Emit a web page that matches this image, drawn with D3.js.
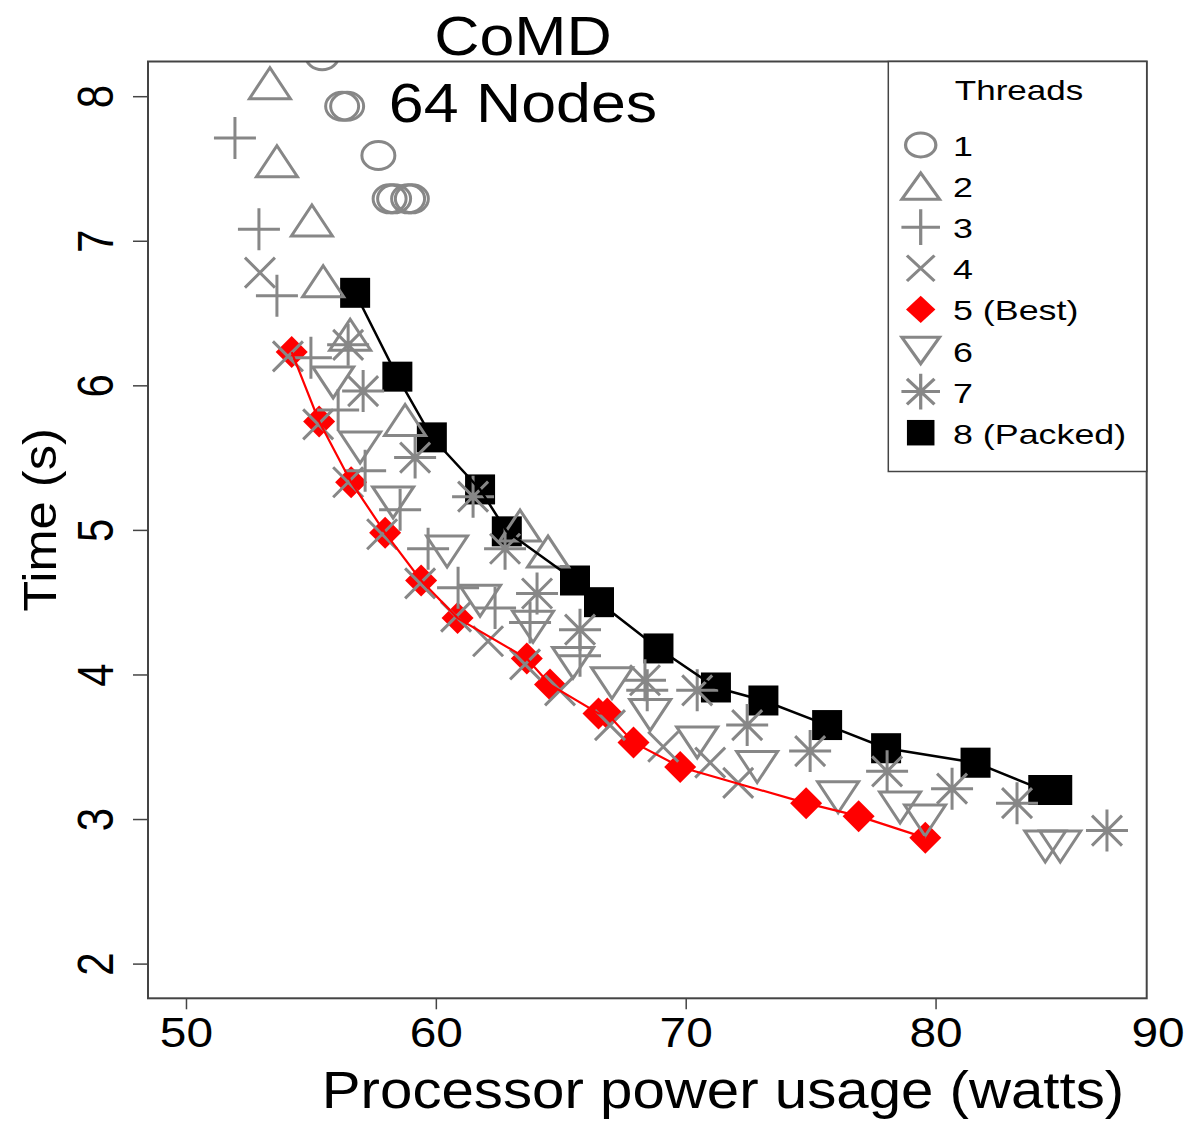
<!DOCTYPE html>
<html>
<head>
<meta charset="utf-8">
<script src="https://cdn.jsdelivr.net/npm/d3@7"></script>
<style>
body { margin: 0; background: #fff; }
svg { display: block; font-family: "Liberation Sans", Arial, Helvetica, sans-serif; }
</style>
</head>
<body>
<div id="chart"></div>
<script>
// values, power in watts and time in seconds
var t1Power = [55.45, 56.25, 56.45, 57.70, 58.15, 58.33, 58.89, 59.04];
var t1Time  = [8.28, 7.93, 7.93, 7.59, 7.29, 7.29, 7.29, 7.29];

var t2Power = [53.36, 53.64, 55.04, 55.49, 56.57, 58.77, 63.37, 64.49];
var t2Time  = [8.09, 7.55, 7.14, 6.72, 6.35, 5.76, 5.03, 4.85];

var t3Power = [51.96, 52.92, 53.64, 55.00, 56.09, 57.17, 58.57, 59.69, 60.89, 62.37, 63.77, 65.77, 68.46];
var t3Time  = [7.71, 7.08, 6.62, 6.19, 5.83, 5.41, 5.14, 4.87, 4.60, 4.46, 4.36, 4.13, 3.89];

var t4Power = [52.96, 54.08, 55.29, 56.49, 57.85, 59.37, 60.81, 62.09, 63.57, 64.97, 66.97, 69.10, 70.98, 72.10];
var t4Time  = [6.78, 6.20, 5.73, 5.33, 4.97, 4.63, 4.40, 4.23, 4.07, 3.89, 3.65, 3.50, 3.39, 3.25];

var t5Power = [54.23, 55.33, 56.61, 57.97, 59.41, 60.87, 63.64, 64.57, 66.51, 66.86, 67.91, 69.78, 74.82, 76.92, 79.59];
var t5Time  = [6.23, 5.75, 5.33, 4.98, 4.65, 4.39, 4.11, 3.93, 3.73, 3.73, 3.53, 3.36, 3.11, 3.02, 2.87];

var t6Power = [55.89, 56.97, 58.29, 60.45, 61.77, 63.89, 65.49, 67.05, 68.58, 70.46, 72.86, 76.10, 78.58, 79.58, 84.39, 84.99];
var t6Time  = [6.02, 5.57, 5.19, 4.85, 4.51, 4.33, 4.08, 3.94, 3.72, 3.53, 3.36, 3.15, 3.08, 2.99, 2.81, 2.81];

var t7Power = [56.49, 57.09, 59.17, 61.49, 62.77, 64.05, 65.77, 68.37, 70.46, 72.46, 74.98, 78.06, 80.66, 83.26, 86.86];
var t7Time  = [6.28, 5.96, 5.50, 5.23, 4.87, 4.56, 4.31, 3.96, 3.89, 3.65, 3.47, 3.33, 3.21, 3.11, 2.92];

var t8Power = [56.77, 58.46, 59.84, 61.77, 62.84, 65.57, 66.53, 68.91, 71.21, 73.11, 75.66, 78.02, 81.60, 84.31, 84.87];
var t8Time  = [6.64, 6.06, 5.64, 5.28, 4.99, 4.65, 4.50, 4.18, 3.91, 3.82, 3.65, 3.49, 3.39, 3.20, 3.20];

var legendLabels = ["1", "2", "3", "4", "5 (Best)", "6", "7", "8 (Packed)"];
var xTicks = [50, 60, 70, 80];
var yTicks = [2, 3, 4, 5, 6, 7, 8];

var width = 1191, height = 1121;
var margin = {top: 61.5, right: 44.3, bottom: 122.7, left: 148};
var gray = "#878787";

var series = [
  {type: "circle", power: t1Power, time: t1Time},
  {type: "triUp", power: t2Power, time: t2Time},
  {type: "plus", power: t3Power, time: t3Time},
  {type: "cross", power: t4Power, time: t4Time},
  {type: "diamond", power: t5Power, time: t5Time},
  {type: "triDown", power: t6Power, time: t6Time},
  {type: "star", power: t7Power, time: t7Time},
  {type: "square", power: t8Power, time: t8Time}
];

var shapePath = function(type, k) {
  var p = d3.path(), rx, ry, hw, h, r, c;
  if (type === "circle") {
    rx = 16.5 * k; ry = 14 * k;
    return "M" + (-rx) + ",0A" + rx + "," + ry + " 0 1,0 " + rx + ",0A" + rx + "," + ry + " 0 1,0 " + (-rx) + ",0Z";
  }
  if (type === "triUp" || type === "triDown") {
    hw = 20.5 * k; h = 31 * k;
    var s = type === "triUp" ? 1 : -1;
    p.moveTo(-hw, s * h / 2); p.lineTo(hw, s * h / 2); p.lineTo(0, -s * h / 2); p.closePath();
    return p.toString();
  }
  if (type === "plus" || type === "star") {
    r = 21 * k;
    p.moveTo(-r, 0); p.lineTo(r, 0); p.moveTo(0, -r); p.lineTo(0, r);
  }
  if (type === "cross" || type === "star") {
    c = 15 * k;
    p.moveTo(-c, -c); p.lineTo(c, c); p.moveTo(-c, c); p.lineTo(c, -c);
  }
  if (type === "plus" || type === "cross" || type === "star") return p.toString();
  if (type === "square") {
    r = 15 * k;
    p.rect(-r, -r, 2 * r, 2 * r);
    return p.toString();
  }
  if (type === "diamond") {
    r = 16 * k;
    p.moveTo(0, -r); p.lineTo(r, 0); p.lineTo(0, r); p.lineTo(-r, 0); p.closePath();
    return p.toString();
  }
};

var styleMark = function(sel, type) {
  if (type === "square") return sel.attr("fill", "#000").attr("stroke", "none");
  if (type === "diamond") return sel.attr("fill", "#ff0000").attr("stroke", "none");
  return sel.attr("fill", "none").attr("stroke", gray).attr("stroke-width", 3);
};

// text stretched along its own direction, like the reference
var addText = function(parent, x, y, str, size, sx, anchor, rot) {
  var t = "translate(" + x + "," + y + ")" + (rot ? " rotate(" + rot + ")" : "") + " scale(" + sx + ",1)";
  return parent.append("text").attr("transform", t).attr("text-anchor", anchor)
    .style("font-size", size + "px").attr("fill", "#000").text(str);
};

var svg = d3.select("#chart").append("svg").attr("width", width).attr("height", height);

var x = d3.scaleLinear().domain([48.48, 88.45]).range([margin.left, width - margin.right]);
var y = d3.scaleLinear().domain([1.76, 8.24]).range([height - margin.bottom, margin.top]);

svg.append("clipPath").attr("id", "plotclip").append("rect")
  .attr("x", margin.left).attr("y", margin.top)
  .attr("width", width - margin.left - margin.right)
  .attr("height", height - margin.top - margin.bottom);

var plot = svg.append("g").attr("clip-path", "url(#plotclip)");

// marks: packed and best first, grey ones over them, lines on top
var drawOrder = [7, 4, 0, 1, 2, 3, 5, 6];
drawOrder.forEach(function(i) {
  var s = series[i];
  var pts = s.power.map(function(p, j) { return [p, s.time[j]]; });
  plot.append("g").selectAll("path").data(pts).enter().append("path")
    .attr("d", shapePath(s.type, 1))
    .attr("transform", function(d) { return "translate(" + x(d[0]) + "," + y(d[1]) + ")"; })
    .call(styleMark, s.type);
});

var line = d3.line().x(function(d) { return x(d[0]); }).y(function(d) { return y(d[1]); });
[[7, "#000", 2.5], [4, "#ff0000", 2.2]].forEach(function(o) {
  var s = series[o[0]];
  var pts = s.power.map(function(p, j) { return [p, s.time[j]]; });
  plot.append("path").datum(pts).attr("d", line)
    .attr("fill", "none").attr("stroke", o[1]).attr("stroke-width", o[2]);
});

// box
svg.append("rect").attr("x", margin.left).attr("y", margin.top)
  .attr("width", width - margin.left - margin.right)
  .attr("height", height - margin.top - margin.bottom)
  .attr("fill", "none").attr("stroke", "#444").attr("stroke-width", 2);

// axes
var xAxis = svg.append("g").attr("transform", "translate(0," + (height - margin.bottom) + ")")
  .call(d3.axisBottom(x).tickValues(xTicks).tickSize(11).tickFormat(d3.format("d")));
xAxis.select(".domain").remove();
xAxis.selectAll(".tick line").attr("stroke", "#444").attr("stroke-width", 1.5);
xAxis.selectAll(".tick text").attr("y", 0).attr("dy", 0)
  .attr("transform", "translate(0,48.5) scale(1.14,1)")
  .style("font-size", "42px").style("font-family", "inherit").attr("fill", "#000");
// the last label sits at the right edge of the picture
addText(svg, 1158, 1047, "90", 42, 1.14, "middle");

var yAxis = svg.append("g").attr("transform", "translate(" + margin.left + ",0)")
  .call(d3.axisLeft(y).tickValues(yTicks).tickSize(15).tickFormat(d3.format("d")));
yAxis.select(".domain").remove();
yAxis.selectAll(".tick line").attr("stroke", "#444").attr("stroke-width", 1.5);
yAxis.selectAll(".tick text").attr("x", 0).attr("y", 0).attr("dy", 0)
  .attr("transform", "translate(-35,0) rotate(-90) scale(1,1.2)")
  .style("text-anchor", "middle")
  .style("font-size", "42px").style("font-family", "inherit").attr("fill", "#000");

// titles
addText(svg, 40 + 16, 520, "Time (s)", 46, 1.1, "middle", -90);
addText(svg, 723, 1108, "Processor power usage (watts)", 52, 1.12, "middle");
addText(svg, 523, 55, "CoMD", 56, 1.12, "middle");
addText(svg, 523, 122, "64 Nodes", 56, 1.12, "middle");

// legend
var legend = svg.append("g");
legend.append("rect").attr("x", 888.3).attr("y", margin.top)
  .attr("width", width - margin.right - 888.3).attr("height", 410)
  .attr("fill", "#fff").attr("stroke", "#444").attr("stroke-width", 1.5);
addText(legend, 1019, 100, "Threads", 28, 1.25, "middle");
legendLabels.forEach(function(lab, i) {
  var cy = 145 + i * 41.1;
  legend.append("path").attr("d", shapePath(series[i].type, 0.85))
    .attr("transform", "translate(920.7," + cy + ") scale(1.08,1)")
    .call(styleMark, series[i].type);
  addText(legend, 953, cy + 11, lab, 28, 1.28, "start");
});
</script>
</body>
</html>
